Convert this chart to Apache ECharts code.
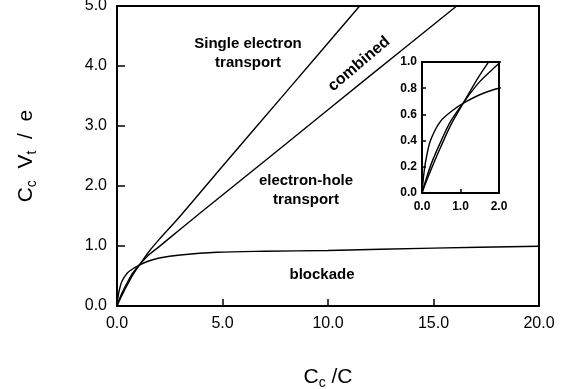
<!DOCTYPE html>
<html>
<head>
<meta charset="utf-8">
<script src="https://cdn.jsdelivr.net/npm/echarts@6/dist/echarts.min.js"></script>
<style>
  html, body { margin: 0; padding: 0; background: #fff; }
  #chart { width: 569px; height: 389px; }
</style>
</head>
<body>
<div id="chart"></div>
<script>
// boundaries: [Cc/C, Cc Vt / e]
const singleElectron = [
  [0, 0], [0.1, 0.08], [0.25, 0.19], [0.5, 0.36], [0.75, 0.52], [1.1, 0.7],
  [1.5, 0.9], [2, 1.11], [3, 1.5], [5, 2.33], [8, 3.56], [11.5, 5.0]
];
const electronHole = [
  [0, 0], [0.1, 0.1], [0.25, 0.23], [0.5, 0.4], [0.75, 0.55], [1.1, 0.7],
  [1.5, 0.85], [2, 0.99], [3, 1.28], [5, 1.85], [8, 2.7], [12, 3.84], [16.1, 5.0]
];
const blockade = [
  [0, 0], [0.05, 0.15], [0.1, 0.25], [0.22, 0.4], [0.48, 0.547], [0.82, 0.636],
  [1.1, 0.69], [1.5, 0.75], [2, 0.8], [3, 0.85], [4.75, 0.895], [7, 0.912],
  [10, 0.925], [15, 0.965], [20, 0.995]
];

const mainXTicks = { min: 0, max: 20, interval: 5 };
const mainYTicks = { min: 0, max: 5, interval: 1 };
const insetXTicks = { min: 0, max: 2, interval: 1 };
const insetYTicks = { min: 0, max: 1, interval: 0.2 };

const FONT = '"Liberation Sans", Arial, Helvetica, sans-serif';
const black = "#000";

const chart = echarts.init(document.getElementById("chart"));

const nameRich = {
  m: { fontSize: 21, lineHeight: 21, verticalAlign: "top", fontFamily: FONT, color: black },
  s: { fontSize: 14, lineHeight: 14, padding: [9, 0, 0, 0], verticalAlign: "top", fontFamily: FONT, color: black },
};

function axisBase(range, labelSize, bold, tickLen, margin) {
  return {
    min: range.min,
    max: range.max,
    interval: range.interval,
    axisLine: { show: true, lineStyle: { color: black, width: 2 } },
    axisTick: { show: true, inside: true, length: tickLen, lineStyle: { color: black, width: 1.5 } },
    splitLine: { show: false },
    axisLabel: {
      color: black,
      margin,
      fontSize: labelSize,
      fontFamily: FONT,
      fontWeight: bold ? "bold" : "normal",
      formatter: (v) => v.toFixed(1),
    },
  };
}

function line(data, axis) {
  return {
    type: "line",
    data,
    xAxisIndex: axis,
    yAxisIndex: axis,
    showSymbol: false,
    smooth: 0.3,
    clip: true,
    lineStyle: { color: black, width: 1.4 },
    silent: true,
  };
}

const labelStyle = { fontFamily: FONT, fontSize: 15, fontWeight: "bold", fill: black, textAlign: "center" };

const option = {
  animation: false,
  backgroundColor: "#fff",
  grid: [
    {
      left: 117, top: 6, width: 422, height: 300, outerBoundsMode: "none",
      show: true, borderColor: black, borderWidth: 2, backgroundColor: "transparent",
    },
    {
      left: 422, top: 62, width: 77, height: 131, outerBoundsMode: "none",
      show: true, borderColor: black, borderWidth: 2, backgroundColor: "#fff",
    },
  ],
  xAxis: [
    Object.assign(axisBase(mainXTicks, 16, false, 7, 10), {
      type: "value", gridIndex: 0,
      name: "{m|C}{s|c}{m| /C}",
      nameLocation: "middle", nameGap: 61,
      nameTextStyle: { rich: nameRich },
    }),
    Object.assign(axisBase(insetXTicks, 12, true, 4, 8), { type: "value", gridIndex: 1 }),
  ],
  yAxis: [
    Object.assign(axisBase(mainYTicks, 16, false, 8, 10), {
      type: "value", gridIndex: 0,
      name: "{m|C}{s|c}{m|  V}{s|t}{m|  /  e}",
      nameLocation: "middle", nameGap: 80,
      nameTextStyle: { rich: nameRich },
    }),
    Object.assign(axisBase(insetYTicks, 12, true, 4, 5), { type: "value", gridIndex: 1 }),
  ],
  series: [
    line(singleElectron, 0),
    line(electronHole, 0),
    line(blockade, 0),
    line(singleElectron, 1),
    line(electronHole, 1),
    line(blockade, 1),
  ],
  graphic: [
    { type: "text", x: 248, y: 34, style: Object.assign({ text: "Single electron\ntransport", lineHeight: 19 }, labelStyle) },
    { type: "text", x: 306, y: 171, style: Object.assign({ text: "electron-hole\ntransport", lineHeight: 19 }, labelStyle) },
    { type: "text", x: 322, y: 267, style: Object.assign({ text: "blockade" }, labelStyle) },
    {
      type: "text", x: 359, y: 64, rotation: 40 * Math.PI / 180,
      style: Object.assign({ text: "combined", textVerticalAlign: "middle" }, labelStyle, { fontSize: 16 }),
    },
  ],
};

chart.setOption(option);
</script>
</body>
</html>
